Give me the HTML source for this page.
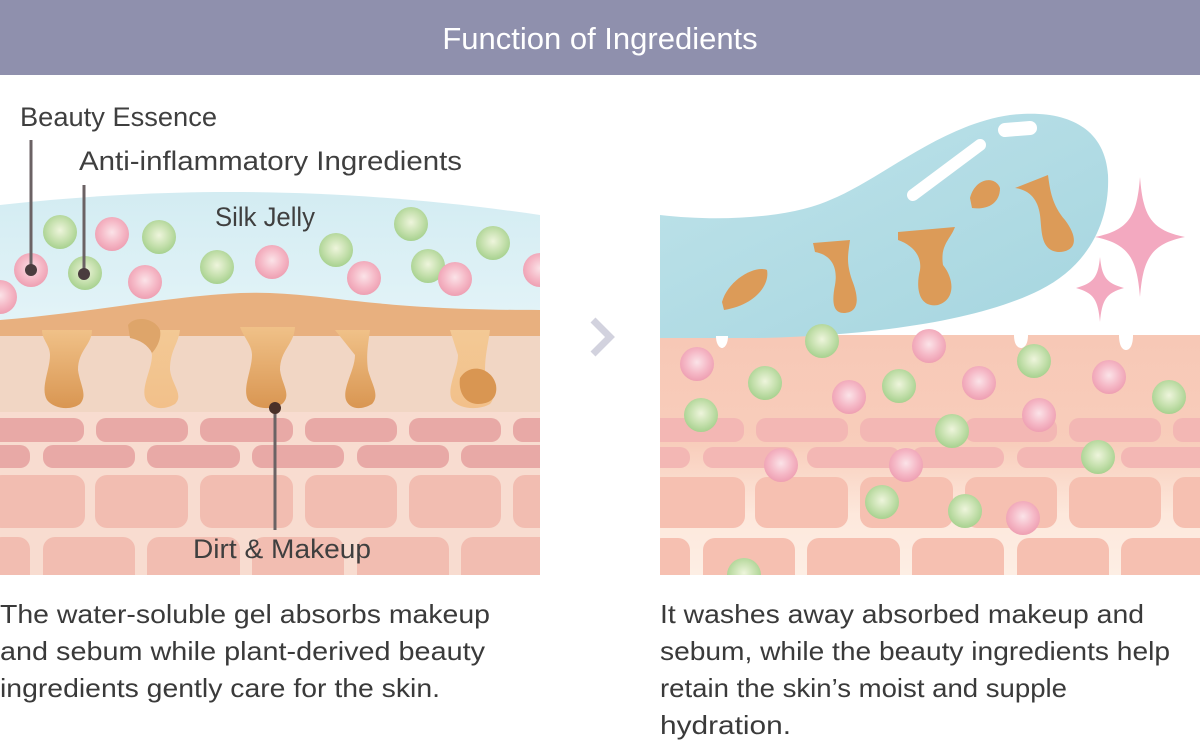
<!DOCTYPE html>
<html><head><meta charset="utf-8"><style>
html,body{margin:0;padding:0;background:#fff;width:1200px;height:744px;overflow:hidden}
svg text{font-family:"Liberation Sans",sans-serif}
</style></head><body>
<svg width="1200" height="744" viewBox="0 0 1200 744" xmlns="http://www.w3.org/2000/svg">
<defs>
<radialGradient id="gp" cx="50%" cy="45%" r="55%"><stop offset="0" stop-color="#fbe3e8"/><stop offset="0.6" stop-color="#f5b8c6"/><stop offset="1" stop-color="#ee9fb2"/></radialGradient>
<radialGradient id="gg" cx="50%" cy="45%" r="55%"><stop offset="0" stop-color="#eef5dc"/><stop offset="0.6" stop-color="#c5e0ad"/><stop offset="1" stop-color="#a7d18f"/></radialGradient>
<linearGradient id="jel" x1="0" y1="0" x2="0" y2="1"><stop offset="0" stop-color="#d3ecf2"/><stop offset="1" stop-color="#e4f4f8"/></linearGradient>
<linearGradient id="blob" x1="0" y1="0" x2="1" y2="1"><stop offset="0" stop-color="#bfe3ea"/><stop offset="1" stop-color="#a5d5df"/></linearGradient>
<linearGradient id="rskin" x1="0" y1="0" x2="0" y2="1"><stop offset="0" stop-color="#f7c8b6"/><stop offset="0.45" stop-color="#f8cdbb"/><stop offset="0.75" stop-color="#fde8dc"/><stop offset="1" stop-color="#fdeee4"/></linearGradient>
<linearGradient id="dirt" x1="0" y1="0" x2="0" y2="1"><stop offset="0" stop-color="#f0c188"/><stop offset="1" stop-color="#d99652"/></linearGradient>
<linearGradient id="dirtl" x1="0" y1="0" x2="0" y2="1"><stop offset="0" stop-color="#f3c995"/><stop offset="1" stop-color="#f2c08a"/></linearGradient>
<clipPath id="cl"><rect x="0" y="0" width="540" height="575"/></clipPath>
<clipPath id="cr"><rect x="660" y="0" width="540" height="575"/></clipPath>
</defs>

<rect x="0" y="0" width="1200" height="75" fill="#8f90ad"/>
<text x="600" y="49" font-size="31" fill="#fff" text-anchor="middle">Function of Ingredients</text>

<g clip-path="url(#cl)">
<rect x="0" y="300" width="540" height="275" fill="#f0d8c8"/>
<path d="M0,205 C120,192 300,180 540,215 L540,320 L0,330 Z" fill="url(#jel)"/>
<path d="M0,320 C100,312 200,290 270,293 C340,296 380,310 540,310 L540,336 L0,336 Z" fill="#e8b07f"/>
<rect x="0" y="336" width="540" height="76" fill="#f1d6c4"/>
<rect x="0" y="412" width="540" height="163" fill="#f8dcd0"/>
<g fill="#e8a9a6">
<rect x="-10" y="418" width="94" height="24" rx="10"/><rect x="96" y="418" width="92" height="24" rx="10"/><rect x="200" y="418" width="93" height="24" rx="10"/><rect x="305" y="418" width="92" height="24" rx="10"/><rect x="409" y="418" width="92" height="24" rx="10"/><rect x="513" y="418" width="40" height="24" rx="10"/>
<rect x="-10" y="445" width="40" height="23" rx="10"/><rect x="43" y="445" width="92" height="23" rx="10"/><rect x="147" y="445" width="93" height="23" rx="10"/><rect x="252" y="445" width="92" height="23" rx="10"/><rect x="357" y="445" width="92" height="23" rx="10"/><rect x="461" y="445" width="92" height="23" rx="10"/>
</g>
<g fill="#f2bdb1">
<rect x="-10" y="475" width="95" height="53" rx="12"/><rect x="95" y="475" width="93" height="53" rx="12"/><rect x="200" y="475" width="93" height="53" rx="12"/><rect x="305" y="475" width="92" height="53" rx="12"/><rect x="409" y="475" width="92" height="53" rx="12"/><rect x="513" y="475" width="40" height="53" rx="12"/>
<rect x="-10" y="537" width="40" height="50" rx="12"/><rect x="43" y="537" width="92" height="50" rx="12"/><rect x="147" y="537" width="93" height="50" rx="12"/><rect x="252" y="537" width="92" height="50" rx="12"/><rect x="357" y="537" width="92" height="50" rx="12"/><rect x="461" y="537" width="92" height="50" rx="12"/>
</g>
<path d="M42,330 L92,330 C92,345 78,350 78,370 C80,385 88,395 80,404 C72,410 55,410 47,400 C40,388 50,370 50,355 C50,345 42,340 42,330Z" fill="url(#dirt)"/>
<path d="M146,330 L180,330 C178,345 170,350 170,370 C172,385 184,395 175,404 C165,410 152,410 146,400 C140,388 152,370 152,355 Z" fill="url(#dirtl)"/>
<path d="M128,325 C135,315 155,318 160,330 C162,340 155,350 152,353 C148,345 140,340 130,338 Z" fill="#dea56a"/>
<path d="M240,327 L295,327 C294,345 280,350 280,370 C282,385 292,395 282,404 C272,410 255,410 248,400 C242,388 252,370 252,355 C252,345 244,338 240,327Z" fill="url(#dirt)"/>
<path d="M335,330 L370,330 C368,345 366,355 368,370 C372,385 380,395 372,404 C362,410 350,410 346,400 C342,388 355,370 355,355 Z" fill="url(#dirt)"/>
<path d="M450,330 L490,330 C488,345 485,355 485,370 C488,385 498,395 490,404 C480,410 460,410 452,400 C446,388 458,370 458,355 Z" fill="url(#dirtl)"/>
<path d="M460,378 C470,362 492,368 496,385 C498,398 490,404 478,404 C465,404 458,392 460,378Z" fill="#d99652"/>
<circle cx="0" cy="297" r="17" fill="url(#gp)"/>
<circle cx="31" cy="270" r="17" fill="url(#gp)"/><circle cx="85" cy="273" r="17" fill="url(#gg)"/>
<circle cx="60" cy="232" r="17" fill="url(#gg)"/><circle cx="112" cy="234" r="17" fill="url(#gp)"/>
<circle cx="159" cy="237" r="17" fill="url(#gg)"/><circle cx="145" cy="282" r="17" fill="url(#gp)"/>
<circle cx="217" cy="267" r="17" fill="url(#gg)"/><circle cx="272" cy="262" r="17" fill="url(#gp)"/>
<circle cx="336" cy="250" r="17" fill="url(#gg)"/><circle cx="411" cy="224" r="17" fill="url(#gg)"/>
<circle cx="364" cy="278" r="17" fill="url(#gp)"/><circle cx="428" cy="266" r="17" fill="url(#gg)"/>
<circle cx="455" cy="279" r="17" fill="url(#gp)"/><circle cx="493" cy="243" r="17" fill="url(#gg)"/>
<circle cx="540" cy="270" r="17" fill="url(#gp)"/>
</g>
<g stroke="#6b6264" stroke-width="3">
<line x1="31" y1="140" x2="31" y2="270"/><line x1="84" y1="185" x2="84" y2="273"/><line x1="275" y1="408" x2="275" y2="530"/>
</g>
<circle cx="31" cy="270" r="6" fill="#4a3c3e"/><circle cx="84" cy="274" r="6" fill="#4a3c3e"/><circle cx="275" cy="408" r="6" fill="#4a3028"/>
<g font-size="27" fill="#3f3f3f">
<text x="20" y="126" textLength="197" lengthAdjust="spacingAndGlyphs">Beauty Essence</text>
<text x="79" y="170" textLength="383" lengthAdjust="spacingAndGlyphs">Anti-inflammatory Ingredients</text>
<text x="215" y="226" textLength="100" lengthAdjust="spacingAndGlyphs">Silk Jelly</text>
<text x="193" y="558" textLength="178" lengthAdjust="spacingAndGlyphs">Dirt &amp; Makeup</text>
</g>

<path d="M593,320 L610,337 L593,354" fill="none" stroke="#d2d2de" stroke-width="7"/>

<g clip-path="url(#cr)">
<rect x="660" y="335" width="540" height="240" fill="url(#rskin)"/>
<g fill="#f3b7b4">
<rect x="650" y="418" width="94" height="24" rx="10"/><rect x="756" y="418" width="92" height="24" rx="10"/><rect x="860" y="418" width="93" height="24" rx="10"/><rect x="965" y="418" width="92" height="24" rx="10"/><rect x="1069" y="418" width="92" height="24" rx="10"/><rect x="1173" y="418" width="40" height="24" rx="10"/>
<rect x="650" y="447" width="40" height="21" rx="10"/><rect x="703" y="447" width="92" height="21" rx="10"/><rect x="807" y="447" width="93" height="21" rx="10"/><rect x="912" y="447" width="92" height="21" rx="10"/><rect x="1017" y="447" width="92" height="21" rx="10"/><rect x="1121" y="447" width="92" height="21" rx="10"/>
</g>
<g fill="#f6c0b1">
<rect x="650" y="477" width="95" height="51" rx="12"/><rect x="755" y="477" width="93" height="51" rx="12"/><rect x="860" y="477" width="93" height="51" rx="12"/><rect x="965" y="477" width="92" height="51" rx="12"/><rect x="1069" y="477" width="92" height="51" rx="12"/><rect x="1173" y="477" width="40" height="51" rx="12"/>
<rect x="650" y="538" width="40" height="50" rx="12"/><rect x="703" y="538" width="92" height="50" rx="12"/><rect x="807" y="538" width="93" height="50" rx="12"/><rect x="912" y="538" width="92" height="50" rx="12"/><rect x="1017" y="538" width="92" height="50" rx="12"/><rect x="1121" y="538" width="92" height="50" rx="12"/>
</g>
<path d="M660,215 C720,222 790,218 830,200 C880,180 940,125 1010,115 C1070,108 1105,130 1108,175 C1110,220 1090,265 1040,290 C980,320 880,335 760,338 L660,338 Z" fill="url(#blob)"/>
<g fill="#fff">
<path d="M716,336 L728,336 C728,345 724,348 722,348 C720,348 716,345 716,336Z"/>
<path d="M1014,335 L1028,335 C1028,345 1024,348 1021,348 C1018,348 1014,345 1014,335Z"/>
<path d="M1119,335 L1133,335 C1133,347 1129,350 1126,350 C1123,350 1119,347 1119,335Z"/>
</g>
<path d="M913,195 L980,145" stroke="#fff" stroke-width="12" stroke-linecap="round"/>
<path d="M1005,130 L1030,128" stroke="#fff" stroke-width="14" stroke-linecap="round"/>
<g fill="#dc9b58">
<path d="M722,302 C728,280 755,265 767,270 C770,285 755,305 724,310Z"/>
<path d="M813,243 L850,240 C848,255 846,262 852,280 C860,300 858,312 845,313 C832,314 832,300 835,285 C838,268 832,255 815,252Z"/>
<path d="M898,232 L955,227 C950,240 940,245 943,265 C955,280 955,300 938,305 C920,308 915,290 920,270 C922,255 912,245 898,240Z"/>
<path d="M970,198 C975,178 995,175 1000,188 C1000,205 985,210 972,208Z"/>
<path d="M1015,188 L1048,175 C1050,190 1052,205 1065,220 C1080,240 1075,252 1058,252 C1040,250 1042,230 1040,215 C1038,200 1030,190 1015,188Z"/>
</g>
<g fill="#f3a9c0">
<path d="M1140,177 C1143,215 1150,230 1185,237 C1150,244 1143,260 1140,297 C1137,260 1130,244 1095,237 C1130,230 1137,215 1140,177Z"/>
<path d="M1100,257 C1102,277 1106,283 1124,288 C1106,293 1102,300 1100,322 C1098,300 1094,293 1076,288 C1094,283 1098,277 1100,257Z"/>
</g>
<circle cx="822" cy="341" r="17" fill="url(#gg)"/><circle cx="697" cy="364" r="17" fill="url(#gp)"/>
<circle cx="765" cy="383" r="17" fill="url(#gg)"/><circle cx="849" cy="397" r="17" fill="url(#gp)"/>
<circle cx="899" cy="386" r="17" fill="url(#gg)"/><circle cx="929" cy="346" r="17" fill="url(#gp)"/>
<circle cx="979" cy="383" r="17" fill="url(#gp)"/><circle cx="1034" cy="361" r="17" fill="url(#gg)"/>
<circle cx="1109" cy="377" r="17" fill="url(#gp)"/><circle cx="1169" cy="397" r="17" fill="url(#gg)"/>
<circle cx="701" cy="415" r="17" fill="url(#gg)"/><circle cx="1039" cy="415" r="17" fill="url(#gp)"/>
<circle cx="952" cy="431" r="17" fill="url(#gg)"/><circle cx="1098" cy="457" r="17" fill="url(#gg)"/>
<circle cx="781" cy="465" r="17" fill="url(#gp)"/><circle cx="906" cy="465" r="17" fill="url(#gp)"/>
<circle cx="882" cy="502" r="17" fill="url(#gg)"/><circle cx="965" cy="511" r="17" fill="url(#gg)"/>
<circle cx="1023" cy="518" r="17" fill="url(#gp)"/>
<circle cx="744" cy="575" r="17" fill="url(#gg)"/>
</g>

<g font-size="26" fill="#3a3a3a">
<text x="0" y="623" textLength="490" lengthAdjust="spacingAndGlyphs">The water-soluble gel absorbs makeup</text>
<text x="0" y="660" textLength="485" lengthAdjust="spacingAndGlyphs">and sebum while plant-derived beauty</text>
<text x="0" y="697" textLength="440" lengthAdjust="spacingAndGlyphs">ingredients gently care for the skin.</text>
<text x="660" y="623" textLength="484" lengthAdjust="spacingAndGlyphs">It washes away absorbed makeup and</text>
<text x="660" y="660" textLength="510" lengthAdjust="spacingAndGlyphs">sebum, while the beauty ingredients help</text>
<text x="660" y="697" textLength="407" lengthAdjust="spacingAndGlyphs">retain the skin’s moist and supple</text>
<text x="660" y="734" textLength="131" lengthAdjust="spacingAndGlyphs">hydration.</text>
</g>
</svg>
</body></html>
